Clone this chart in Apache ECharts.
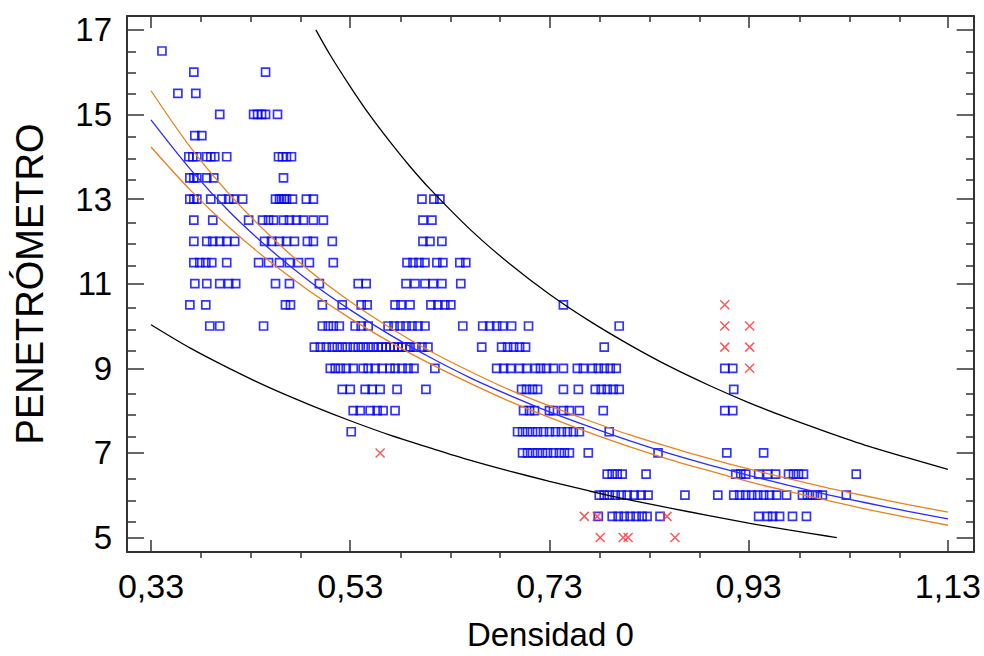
<!DOCTYPE html>
<html>
<head>
<meta charset="utf-8">
<script src="https://cdn.jsdelivr.net/npm/echarts@6/dist/echarts.min.js"></script>
<style>
  html, body { margin: 0; padding: 0; background: #ffffff; }
  #chart { width: 984px; height: 656px; }
</style>
</head>
<body>
<div id="chart"></div>
<script>
// Axis ticks
const xMajorTicks = [0.33, 0.53, 0.73, 0.93, 1.13];
const xMinorTicks = [0.38, 0.43, 0.48, 0.58, 0.63, 0.68, 0.78, 0.83, 0.88, 0.98, 1.03, 1.08];
const yMajorTicks = [5, 7, 9, 11, 13, 15, 17];
const yMinorTicks = [5.5, 6, 6.5, 7.5, 8, 8.5, 9.5, 10, 10.5, 11.5, 12, 12.5, 13.5, 14, 14.5, 15.5, 16, 16.5];

// Observations: one penetrometer level per row, densities listed for each level
const rowPenetrometro = [16.5, 16, 15.5, 15, 14.5, 14, 13.5, 13, 12.5, 12, 11.5, 11, 10.5, 10, 9.5, 9, 8.5, 8, 7.5, 7, 6.5, 6, 5.5];
const rowDensidad = [
  [0.341],
  [0.373, 0.445],
  [0.357, 0.375],
  [0.399, 0.433, 0.437, 0.441, 0.445, 0.457],
  [0.374, 0.381],
  [0.368, 0.372, 0.376, 0.386, 0.390, 0.394, 0.406, 0.458, 0.462, 0.466, 0.471],
  [0.369, 0.373, 0.376, 0.386, 0.393, 0.463],
  [0.369, 0.373, 0.376, 0.390, 0.401, 0.408, 0.413, 0.422, 0.455, 0.459, 0.461, 0.464, 0.466, 0.472, 0.486, 0.493, 0.602, 0.614, 0.620],
  [0.373, 0.392, 0.428, 0.442, 0.448, 0.453, 0.463, 0.469, 0.476, 0.483, 0.493, 0.503, 0.603, 0.612],
  [0.373, 0.386, 0.392, 0.399, 0.406, 0.414, 0.444, 0.451, 0.459, 0.466, 0.474, 0.487, 0.493, 0.512, 0.603, 0.610, 0.622],
  [0.373, 0.379, 0.385, 0.391, 0.406, 0.438, 0.448, 0.459, 0.469, 0.478, 0.489, 0.513, 0.587, 0.593, 0.599, 0.605, 0.617, 0.623, 0.640, 0.646],
  [0.374, 0.386, 0.399, 0.408, 0.415, 0.455, 0.469, 0.499, 0.538, 0.546, 0.586, 0.595, 0.605, 0.613, 0.622, 0.641],
  [0.369, 0.385, 0.465, 0.470, 0.502, 0.522, 0.541, 0.547, 0.575, 0.581, 0.590, 0.611, 0.618, 0.625, 0.631, 0.744],
  [0.389, 0.399, 0.443, 0.502, 0.508, 0.513, 0.519, 0.535, 0.541, 0.548, 0.568, 0.574, 0.580, 0.586, 0.592, 0.598, 0.605, 0.643, 0.663, 0.670, 0.677, 0.683, 0.692, 0.709, 0.800],
  [0.494, 0.500, 0.506, 0.512, 0.517, 0.522, 0.527, 0.533, 0.538, 0.543, 0.548, 0.553, 0.558, 0.562, 0.566, 0.570, 0.574, 0.578, 0.582, 0.586, 0.590, 0.596, 0.602, 0.608, 0.662, 0.682, 0.688, 0.694, 0.700, 0.706, 0.785],
  [0.510, 0.515, 0.520, 0.526, 0.533, 0.543, 0.548, 0.555, 0.562, 0.570, 0.575, 0.582, 0.588, 0.594, 0.615, 0.677, 0.684, 0.691, 0.700, 0.707, 0.716, 0.721, 0.727, 0.734, 0.744, 0.758, 0.764, 0.773, 0.779, 0.785, 0.791, 0.797, 0.906, 0.914],
  [0.522, 0.530, 0.545, 0.552, 0.560, 0.577, 0.606, 0.702, 0.707, 0.713, 0.718, 0.744, 0.759, 0.776, 0.782, 0.788, 0.794, 0.800, 0.915],
  [0.533, 0.540, 0.550, 0.557, 0.563, 0.575, 0.704, 0.710, 0.715, 0.730, 0.734, 0.744, 0.750, 0.760, 0.784, 0.906, 0.914],
  [0.531, 0.698, 0.703, 0.708, 0.713, 0.718, 0.724, 0.730, 0.736, 0.742, 0.748, 0.754, 0.760, 0.790],
  [0.703, 0.708, 0.713, 0.718, 0.723, 0.728, 0.734, 0.740, 0.745, 0.750, 0.769, 0.839, 0.908, 0.945],
  [0.788, 0.793, 0.798, 0.803, 0.827, 0.917, 0.922, 0.927, 0.940, 0.949, 0.957, 0.970, 0.975, 0.980, 0.985, 1.038],
  [0.780, 0.785, 0.790, 0.796, 0.802, 0.808, 0.815, 0.822, 0.829, 0.866, 0.899, 0.915, 0.921, 0.927, 0.933, 0.939, 0.945, 0.951, 0.958, 0.968, 0.984, 0.989, 0.994, 0.999, 1.004, 1.028],
  [0.779, 0.793, 0.799, 0.805, 0.811, 0.817, 0.823, 0.828, 0.841, 0.940, 0.949, 0.954, 0.961, 0.974, 0.988]
];

// Unusual residuals
const outlierDensidad = [0.560, 0.765, 0.778, 0.848, 0.781, 0.804, 0.809, 0.856, 0.906, 0.906, 0.931, 0.906, 0.931, 0.931];
const outlierPenetrometro = [7.0, 5.5, 5.5, 5.5, 5.0, 5.0, 5.0, 5.0, 10.5, 10.0, 10.0, 9.5, 9.5, 9.0];

// Fitted model with confidence limits for the mean
const curveDensidad = [0.33, 0.37, 0.41, 0.45, 0.49, 0.53, 0.57, 0.61, 0.65, 0.69, 0.73, 0.77, 0.81, 0.85, 0.89, 0.93, 0.97, 1.01, 1.05, 1.09, 1.13];
const fitted = [14.87, 13.69, 12.67, 11.80, 11.04, 10.38, 9.79, 9.26, 8.78, 8.36, 7.97, 7.62, 7.29, 6.99, 6.72, 6.47, 6.23, 6.01, 5.81, 5.62, 5.44];
const confUpper = [15.56, 14.21, 13.08, 12.12, 11.29, 10.58, 9.96, 9.41, 8.93, 8.49, 8.11, 7.76, 7.43, 7.14, 6.87, 6.62, 6.39, 6.17, 5.97, 5.78, 5.60];
const confLower = [14.23, 13.20, 12.30, 11.51, 10.81, 10.18, 9.62, 9.11, 8.65, 8.22, 7.84, 7.48, 7.15, 6.85, 6.58, 6.32, 6.09, 5.87, 5.66, 5.47, 5.29];

// Prediction limits
const predUpperDensidad = [0.4955, 0.51, 0.53, 0.55, 0.57, 0.59, 0.61, 0.65, 0.69, 0.73, 0.77, 0.81, 0.85, 0.89, 0.93, 0.97, 1.01, 1.05, 1.09, 1.13];
const predUpper = [17.0, 16.40, 15.66, 14.97, 14.35, 13.77, 13.24, 12.29, 11.47, 10.75, 10.12, 9.56, 9.05, 8.60, 8.19, 7.82, 7.48, 7.16, 6.88, 6.61];
const predLowerDensidad = [0.33, 0.37, 0.41, 0.45, 0.49, 0.53, 0.57, 0.61, 0.65, 0.69, 0.73, 0.77, 0.81, 0.85, 0.89, 0.93, 0.97, 1.01, 1.0185];
const predLower = [10.03, 9.47, 8.98, 8.53, 8.13, 7.76, 7.42, 7.12, 6.83, 6.57, 6.33, 6.10, 5.89, 5.70, 5.52, 5.34, 5.18, 5.03, 5.00];

const X_MIN = 0.3059, X_MAX = 1.1559;
const Y_MIN = 4.658, Y_MAX = 17.327;
const FRAME = '#333333';
const FONT = '"Liberation Sans", Arial, sans-serif';

const pairs = (xs, ys) => xs.map((x, i) => [x, ys[i]]);
const observations = [];
rowPenetrometro.forEach((y, i) => rowDensidad[i].forEach(x => observations.push([x, y])));

function makeXAxis(gridIndex, position, ticks, tickLen, withLine, withLabels) {
  return {
    type: 'value', gridIndex, position, min: X_MIN, max: X_MAX,
    axisLine: { show: withLine, onZero: false, lineStyle: { color: FRAME, width: 2 } },
    axisTick: { show: true, inside: true, length: tickLen, customValues: ticks, lineStyle: { color: FRAME, width: 1.5 } },
    axisLabel: withLabels ? {
      customValues: ticks, margin: 17, fontSize: 34, color: '#000', fontFamily: FONT,
      formatter: v => v.toFixed(2).replace('.', ',')
    } : { show: false },
    splitLine: { show: false },
    axisPointer: { show: false }
  };
}
function makeYAxis(gridIndex, position, ticks, tickLen, withLine, withLabels) {
  return {
    type: 'value', gridIndex, position, min: Y_MIN, max: Y_MAX,
    axisLine: { show: withLine, onZero: false, lineStyle: { color: FRAME, width: 2 } },
    axisTick: { show: true, inside: true, length: tickLen, customValues: ticks, lineStyle: { color: FRAME, width: 1.5 } },
    axisLabel: withLabels ? {
      customValues: ticks, margin: 15, fontSize: 33, color: '#000', fontFamily: FONT,
      formatter: v => String(v)
    } : { show: false },
    splitLine: { show: false },
    axisPointer: { show: false }
  };
}

const xBottom = makeXAxis(0, 'bottom', xMajorTicks, 12, true, true);
xBottom.name = 'Densidad 0';
xBottom.nameLocation = 'middle';
xBottom.nameGap = 66;
xBottom.nameTextStyle = { fontSize: 33, color: '#000', fontFamily: FONT };

const yLeft = makeYAxis(0, 'left', yMajorTicks, 17, true, true);
yLeft.name = 'PENETRÓMETRO';
yLeft.nameLocation = 'middle';
yLeft.nameRotate = 90;
yLeft.nameGap = 78;
yLeft.nameTextStyle = { fontSize: 38, color: '#000', fontFamily: FONT };

const gridBox = { left: 127, right: 9, top: 16, bottom: 98, containLabel: false };

const chart = echarts.init(document.getElementById('chart'), null, { renderer: 'svg', width: 984, height: 656 });
chart.setOption({
  animation: false,
  backgroundColor: '#ffffff',
  grid: [Object.assign({}, gridBox), Object.assign({}, gridBox)],
  xAxis: [
    xBottom,
    makeXAxis(0, 'top', xMajorTicks, 12, true, false),
    makeXAxis(1, 'bottom', xMinorTicks, 6, false, false),
    makeXAxis(1, 'top', xMinorTicks, 6, false, false)
  ],
  yAxis: [
    yLeft,
    makeYAxis(0, 'right', yMajorTicks, 17, true, false),
    makeYAxis(1, 'left', yMinorTicks, 9, false, false),
    makeYAxis(1, 'right', yMinorTicks, 9, false, false)
  ],
  series: [
    {
      name: 'Observaciones', type: 'scatter', xAxisIndex: 0, yAxisIndex: 0,
      data: observations, symbol: 'rect', symbolSize: 8,
      itemStyle: { color: 'rgba(0,0,0,0)', borderColor: '#0000ff', borderWidth: 1.7 },
      emphasis: { disabled: true }, silent: true
    },
    {
      name: 'Límite de predicción superior', type: 'line', xAxisIndex: 0, yAxisIndex: 0,
      data: pairs(predUpperDensidad, predUpper), smooth: 0.3, showSymbol: false,
      lineStyle: { color: '#000000', width: 1.3 }, silent: true
    },
    {
      name: 'Límite de predicción inferior', type: 'line', xAxisIndex: 0, yAxisIndex: 0,
      data: pairs(predLowerDensidad, predLower), smooth: 0.3, showSymbol: false,
      lineStyle: { color: '#000000', width: 1.3 }, silent: true
    },
    {
      name: 'Confianza superior', type: 'line', xAxisIndex: 0, yAxisIndex: 0,
      data: pairs(curveDensidad, confUpper), smooth: 0.3, showSymbol: false,
      lineStyle: { color: '#e8821e', width: 1.3 }, silent: true
    },
    {
      name: 'Confianza inferior', type: 'line', xAxisIndex: 0, yAxisIndex: 0,
      data: pairs(curveDensidad, confLower), smooth: 0.3, showSymbol: false,
      lineStyle: { color: '#e8821e', width: 1.3 }, silent: true
    },
    {
      name: 'Modelo ajustado', type: 'line', xAxisIndex: 0, yAxisIndex: 0,
      data: pairs(curveDensidad, fitted), smooth: 0.3, showSymbol: false,
      lineStyle: { color: '#2b2bff', width: 1.3 }, silent: true
    },
    {
      name: 'Residuos atípicos', type: 'scatter', xAxisIndex: 0, yAxisIndex: 0,
      data: pairs(outlierDensidad, outlierPenetrometro),
      symbol: 'path://M0,0L10,10M10,0L0,10', symbolSize: 9,
      itemStyle: { color: 'rgba(0,0,0,0)', borderColor: '#ff3030', borderWidth: 1.5 },
      emphasis: { disabled: true }, silent: true
    }
  ]
});
</script>
</body>
</html>
